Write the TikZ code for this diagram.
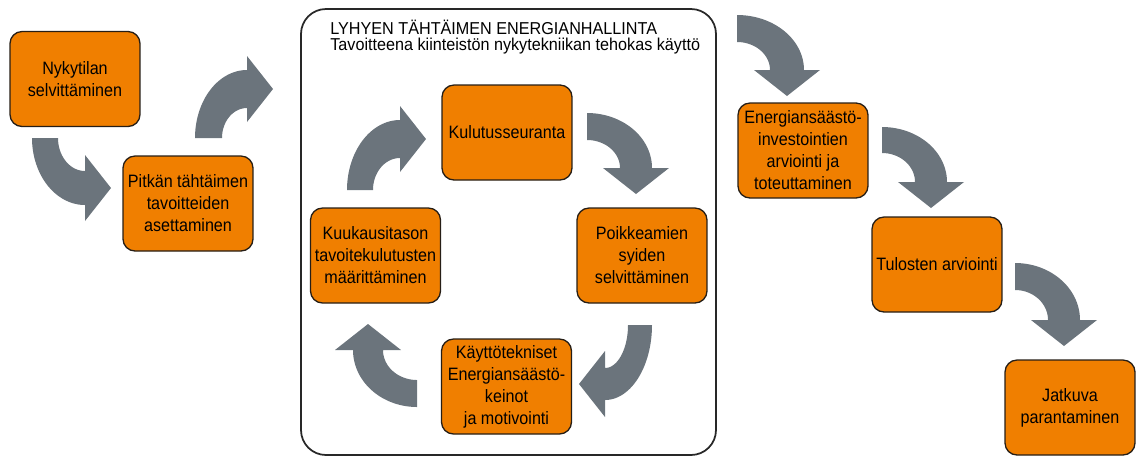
\documentclass[tikz,border=0pt]{standalone}
\usepackage{fontspec}
\setmainfont[FakeStretch=0.9]{Liberation Sans}
\newfontfamily\headfont[FakeStretch=0.94]{Liberation Sans}

\definecolor{boxfill}{RGB}{240,127,0}
\definecolor{boxline}{RGB}{38,30,22}
\definecolor{arrowgrey}{RGB}{107,116,124}
\definecolor{panelline}{RGB}{40,40,40}

% head half-width and head length of the bent block arrows (in px units)
\newcommand\headw{33}
\newcommand\headl{26}
% \bentarrow{cx}{cy}{tail angle}{head angle}{inner rx}{inner ry}{outer rx}{outer ry}
% angles are measured with y pointing down
\newcommand\bentarrow[8]{%
  \pgfmathsetmacro\bS{sign(#4-#3)}%
  \pgfmathsetmacro\bIx{#1+#5*cos(#4)}\pgfmathsetmacro\bIy{#2+#6*sin(#4)}%
  \pgfmathsetmacro\bOx{#1+#7*cos(#4)}\pgfmathsetmacro\bOy{#2+#8*sin(#4)}%
  \pgfmathsetmacro\bMx{(\bIx+\bOx)/2}\pgfmathsetmacro\bMy{(\bIy+\bOy)/2}%
  \pgfmathsetmacro\bUx{cos(#4)}\pgfmathsetmacro\bUy{sin(#4)}%
  \pgfmathsetmacro\bTx{-\bS*sin(#4)}\pgfmathsetmacro\bTy{\bS*cos(#4)}%
  \fill[arrowgrey]
    plot[domain=#3:#4, samples=40, variable=\t] ({#1+#5*cos(\t)},{#2+#6*sin(\t)})
    -- ({\bMx-\headw*\bUx},{\bMy-\headw*\bUy})
    -- ({\bMx+\headl*\bTx},{\bMy+\headl*\bTy})
    -- ({\bMx+\headw*\bUx},{\bMy+\headw*\bUy})
    -- plot[domain=#4:#3, samples=40, variable=\t] ({#1+#7*cos(\t)},{#2+#8*sin(\t)})
    -- cycle;
}

\begin{document}
\begin{tikzpicture}[x=0.02cm, y=-0.02cm,
  stage/.style={draw=boxline, line width=0.75pt, fill=boxfill,
    rounded corners=0.24cm, minimum width=2.6cm, minimum height=1.9cm,
    inner sep=0pt, align=center, text=black,
    font=\fontsize{10.2}{12.5}\selectfont},
  panel/.style={draw=panelline, line width=1pt, rounded corners=0.5cm},
  heading/.style={anchor=base west, inner sep=0pt, text=black,
    font=\headfont\fontsize{9.8}{11}\selectfont}]
\useasboundingbox (0,0) rectangle (1137,458);

% short-term energy management panel
\draw[panel] (301,9) rectangle (716,455);
\node[heading] (title1) at (330,34) {LYHYEN TÄHTÄIMEN ENERGIANHALLINTA};
\node[heading] (title2) at (330,50.5) {Tavoitteena kiinteistön nykytekniikan tehokas käyttö};

% bent block arrows
\bentarrow{85}{138}{180}{90}{27}{33}{53}{67}
\bentarrow{247}{138}{180}{270}{25}{30}{52}{68}
\bentarrow{737}{70}{270}{360}{33}{28}{67}{55}
\bentarrow{882}{182}{270}{360}{33}{29}{65}{55}
\bentarrow{1015}{320}{270}{360}{33}{30}{65}{57}
% monitoring cycle
\bentarrow{400}{190}{180}{270}{27}{32}{53}{70}
\bentarrow{587}{168}{270}{360}{33}{28}{65}{55}
\bentarrow{605}{325}{0}{90}{23}{43}{47}{75}
\bentarrow{417}{350}{90}{180}{34}{30}{64}{57}

% stages
\node[stage] (nyky) at (75,79) {Nykytilan\\selvittäminen};
\node[stage] (pitka) at (188,203.5) {Pitkän tähtäimen\\tavoitteiden\\asettaminen};
\node[stage] (kulu) at (507,132.5) {Kulutusseuranta};
\node[stage] (poik) at (642,255.5) {Poikkeamien\\syiden\\selvittäminen};
\node[stage] (kuuk) at (375.5,255.5) {Kuukausitason\\tavoitekulutusten\\määrittäminen};
\node[stage] (kayt) at (506.5,386.5) {Käyttötekniset\\Energiansäästö-\\keinot\\ja motivointi};
\node[stage] (ener) at (803,150.5) {Energiansäästö-\\investointien\\arviointi ja\\toteuttaminen};
\node[stage] (tulo) at (937,264.5) {Tulosten arviointi};
\node[stage] (jatk) at (1070,407.5) {Jatkuva\\parantaminen};
\end{tikzpicture}
\end{document}
